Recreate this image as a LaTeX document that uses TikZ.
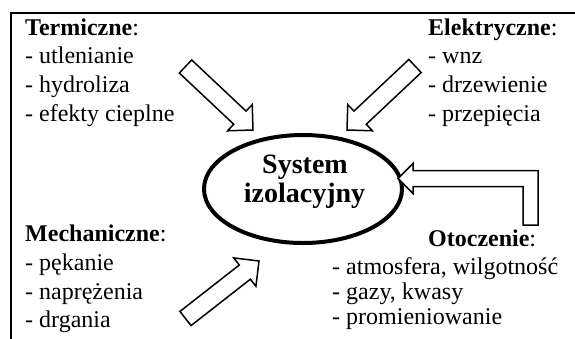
\documentclass[tikz,border=0pt]{standalone}
\usepackage{fontspec}
\setmainfont{Liberation Serif}
\usetikzlibrary{calc,shapes.geometric}
\tikzset{
  txt/.style={inner sep=0pt, anchor=base west, font=\fontsize{24}{29}\selectfont},
  ctr/.style={inner sep=0pt, anchor=base, font=\fontsize{28}{29}\selectfont\bfseries},
  barrow/.style={draw=black, fill=white, line width=1.5pt, line join=miter},
  frame/.style={draw=black, line width=2pt},
  sysell/.style={ellipse, draw=black, line width=4pt, minimum width=198pt, minimum height=108pt, inner sep=0pt}
}
\newcommand{\blockarrow}[2]{%
  \coordinate (hb) at ($(#2)!18pt!(#1)$);
  \draw[barrow] ($(#1)!9pt!90:(#2)$) -- ($(hb)!9pt!90:(#2)$) -- ($(hb)!18pt!90:(#2)$)
    -- (#2) -- ($(hb)!18pt!-90:(#2)$) -- ($(hb)!9pt!-90:(#2)$) -- ($(#1)!9pt!-90:(#2)$) -- cycle;
}
\begin{document}
\begin{tikzpicture}[x=1pt,y=-1pt]
\useasboundingbox (0,0) rectangle (575,338);
% frame
\coordinate (f1) at (580,12.7);
\coordinate (f2) at (11,12.7);
\coordinate (f3) at (11,345);
\draw[frame] (f1) -- (f2) -- (f3);
% central ellipse
\node[sysell] (sys) at (303,189) {};
\node[ctr] (sysA) at (305,173) {System};
\node[ctr] (sysB) at (304.5,202) {izolacyjny};
% Termiczne
\node[txt] (t0) at (25,35) {\textbf{Termiczne}:};
\node[txt] (t1) at (25,63.5) {- utlenianie};
\node[txt] (t2) at (25,92.5) {- hydroliza};
\node[txt] (t3) at (25,121) {- efekty cieplne};
% Elektryczne
\node[txt] (e0) at (428,35) {\textbf{Elektryczne}:};
\node[txt] (e1) at (428,63.5) {- wnz};
\node[txt] (e2) at (428,92.5) {- drzewienie};
\node[txt] (e3) at (428,121) {- przepięcia};
% Mechaniczne
\node[txt] (m0) at (25,241.5) {\textbf{Mechaniczne}:};
\node[txt] (m1) at (25,270.5) {- pękanie};
\node[txt] (m2) at (25,299.5) {- naprężenia};
\node[txt] (m3) at (25,327) {- drgania};
% Otoczenie
\node[txt] (o0) at (428,246) {\textbf{Otoczenie}:};
\node[txt] (o1) at (332,274.7) {- atmosfera, wilgotność};
\node[txt] (o2) at (332,299.7) {- gazy, kwasy};
\node[txt] (o3) at (332,324.7) {- promieniowanie};
% straight block arrows
\coordinate (tT) at (185.5,66.5);  \coordinate (pT) at (253,130);
\coordinate (tE) at (415,66);      \coordinate (pE) at (347,130);
\coordinate (tM) at (185.5,318.5); \coordinate (pM) at (259,261);
\blockarrow{tT}{pT}
\blockarrow{tE}{pE}
\blockarrow{tM}{pM}
% elbow arrow (Otoczenie)
\coordinate (q1) at (398,178.5);
\coordinate (q2) at (413,163.5);
\coordinate (q3) at (413,170.5);
\coordinate (q4) at (538,170.5);
\coordinate (q5) at (538,225);
\coordinate (q6) at (523,225);
\coordinate (q7) at (523,186.5);
\coordinate (q8) at (413,186.5);
\coordinate (q9) at (413,193.5);
\draw[barrow] (q1) -- (q2) -- (q3) -- (q4) -- (q5) -- (q6) -- (q7) -- (q8) -- (q9) -- cycle;
\end{tikzpicture}
\end{document}
